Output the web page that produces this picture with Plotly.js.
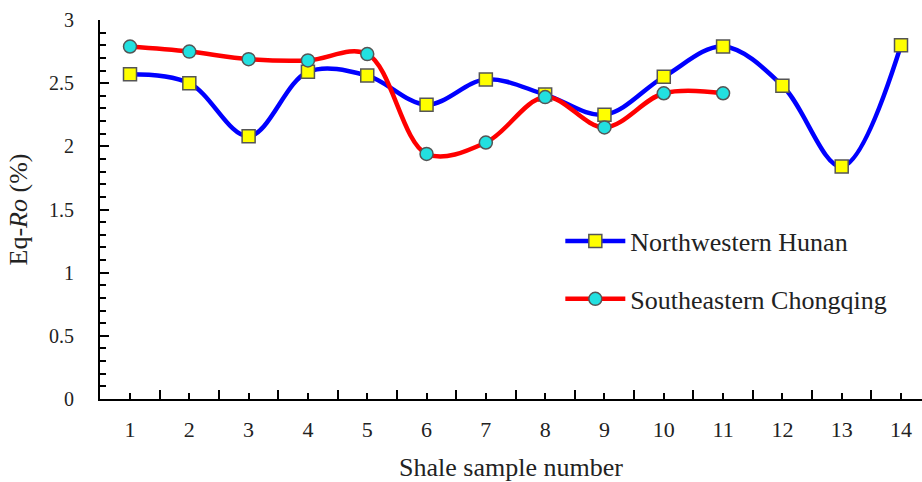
<!DOCTYPE html>
<html>
<head>
<meta charset="utf-8">
<script src="https://cdn.plot.ly/plotly-3.0.1.min.js"></script>
<style>html,body{margin:0;padding:0;background:#fff;overflow:hidden;}#chart{width:922px;height:482px;}</style>
</head>
<body>
<div id="chart"></div>
<script>
const samplesHunan = [1,2,3,4,5,6,7,8,9,10,11,12,13,14];
const eqRoHunan = [2.57,2.50,2.08,2.59,2.56,2.33,2.53,2.41,2.25,2.55,2.79,2.48,1.84,2.80];
const samplesChongqing = [1,2,3,4,5,6,7,8,9,10,11];
const eqRoChongqing = [2.79,2.75,2.69,2.68,2.73,1.94,2.03,2.39,2.15,2.42,2.42];
const tickLabels = ['1','2','3','4','5','6','7','8','9','10','11','12','13','14'];
const seriesNames = ['Northwestern Hunan','Southeastern Chongqing'];

const serif = 'Liberation Serif, Times New Roman, serif';

const traces = [
  {
    x: samplesHunan, y: eqRoHunan, name: seriesNames[0], type: 'scatter', mode: 'lines+markers',
    line: {color: '#0000ff', width: 4.5, shape: 'spline', smoothing: 1},
    marker: {symbol: 'square', size: 13, color: '#ffff00', line: {color: '#555555', width: 1.5}},
    legendgroup: 'a'
  },
  {
    x: samplesChongqing, y: eqRoChongqing, name: seriesNames[1], type: 'scatter', mode: 'lines+markers',
    line: {color: '#ff0000', width: 4.5, shape: 'spline', smoothing: 1},
    marker: {symbol: 'circle', size: 13, color: '#22e0e0', line: {color: '#555555', width: 1.5}},
    legendgroup: 'b'
  }
];

const layout = {
  width: 922, height: 482,
  margin: {l: 100, r: 0, t: 20, b: 83},
  paper_bgcolor: '#ffffff', plot_bgcolor: '#ffffff',
  font: {family: serif, color: '#222222'},
  showlegend: true,
  legend: {
    x: 0.56, y: 0.34, xanchor: 'left', yanchor: 'middle',
    font: {family: serif, size: 26, color: '#222222'},
    bgcolor: 'rgba(0,0,0,0)', tracegroupgap: 21, traceorder: 'grouped',
    itemwidth: 60
  },
  xaxis: {
    range: [0.494, 14.354],
    tickmode: 'array', tickvals: samplesHunan, ticktext: tickLabels,
    ticks: 'inside', ticklen: 6, tickwidth: 2, tickcolor: '#000',
    minor: {tick0: 0.5, dtick: 1, ticks: 'inside', ticklen: 9, tickwidth: 2, tickcolor: '#000'},
    showline: true, linecolor: '#000', linewidth: 2,
    showgrid: false, zeroline: false,
    tickfont: {family: serif, size: 22, color: '#222'},
    ticklabelstandoff: 10,
    title: {text: 'Shale sample number', font: {family: serif, size: 26, color: '#222'}, standoff: 17}
  },
  yaxis: {
    range: [0, 3],
    tick0: 0, dtick: 0.5,
    ticks: 'inside', ticklen: 9, tickwidth: 2, tickcolor: '#000',
    minor: {dtick: 0.1, ticks: 'inside', ticklen: 6, tickwidth: 2, tickcolor: '#000'},
    showline: true, linecolor: '#000', linewidth: 2,
    showgrid: false, zeroline: false,
    tickfont: {family: serif, size: 20, color: '#222'},
    ticklabelstandoff: 20,
    title: {text: 'Eq-<i>Ro</i> (%)', font: {family: serif, size: 26, color: '#222'}, standoff: 14}
  }
};

Plotly.newPlot('chart', traces, layout, {displayModeBar: false, staticPlot: true});
</script>
</body>
</html>
